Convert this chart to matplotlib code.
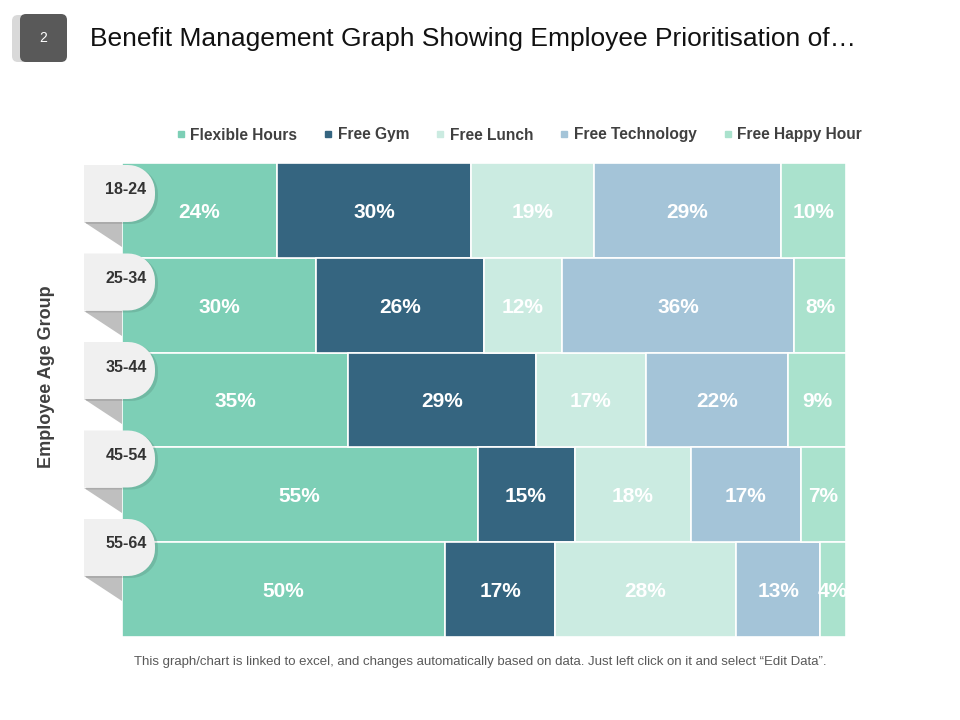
import matplotlib.pyplot as plt
import numpy as np
from matplotlib.patches import Polygon, FancyBboxPatch
from matplotlib.lines import Line2D

plt.rcParams['font.family'] = ['Liberation Sans', 'DejaVu Sans']

# data
age_groups = ["18-24", "25-34", "35-44", "45-54", "55-64"]
benefits = ["Flexible Hours", "Free Gym", "Free Lunch", "Free Technology", "Free Happy Hour"]
flexible_hours = [24, 30, 35, 55, 50]
free_gym = [30, 26, 29, 15, 17]
free_lunch = [19, 12, 17, 18, 28]
free_technology = [29, 36, 22, 17, 13]
free_happy_hour = [10, 8, 9, 7, 4]

colors = ["#7dcfb6", "#356580", "#cbebe1", "#a4c4d8", "#aae2cd"]

series = np.array([flexible_hours, free_gym, free_lunch, free_technology, free_happy_hour], dtype=float)
totals = series.sum(axis=0)

W, H = 960, 720
fig = plt.figure(figsize=(9.6, 7.2), dpi=100)


def fx(x):
    return x / W


def fy(y):
    return 1 - y / H


# main bar axes
ax = fig.add_axes([fx(122), fy(637), 724 / W, 474 / H])
y = np.arange(len(age_groups))
left = np.zeros(len(age_groups))
for i, name in enumerate(benefits):
    widths = series[i] / totals
    ax.barh(y, widths, left=left, height=1.0, color=colors[i],
            edgecolor="white", linewidth=1.2, label=name)
    for j in range(len(age_groups)):
        ax.text(left[j] + widths[j] / 2, y[j] + 0.02, f"{int(series[i][j])}%",
                ha="center", va="center", color="white", fontsize=15,
                fontweight="bold", clip_on=True)
    left += widths
ax.set_xlim(0, 1)
ax.set_ylim(len(age_groups) - 0.5, -0.5)
ax.axis("off")

# overlay in pixel coordinates for decorations
ov = fig.add_axes([0, 0, 1, 1], zorder=5)
ov.set_xlim(0, W)
ov.set_ylim(H, 0)
ov.axis("off")
ov.patch.set_alpha(0)


def tag_points(x0, x1, top, bottom, r):
    pts = [(x0, top), (x1 - r, top)]
    t = np.linspace(-np.pi / 2, 0, 12)
    pts += [(x1 - r + r * np.cos(a), top + r + r * np.sin(a)) for a in t]
    t = np.linspace(0, np.pi / 2, 12)
    pts += [(x1 - r + r * np.cos(a), bottom - r + r * np.sin(a)) for a in t]
    pts += [(x0, bottom)]
    return pts


for i, label in enumerate(age_groups):
    top = 165 + i * 88.5
    bottom = top + 57
    ov.add_patch(Polygon([(84, bottom), (122, bottom), (122, bottom + 25)],
                         closed=True, color="#bfbfbf", lw=0))
    ov.add_patch(Polygon(tag_points(86, 158, top + 2, bottom + 2, 27), closed=True,
                         color="#000000", alpha=0.10, lw=0))
    ov.add_patch(Polygon(tag_points(84, 155, top, bottom, 27), closed=True,
                         color="#f0f0f0", lw=0))
    ov.text(126, top + 25, label, ha="center", va="center", fontsize=11.5,
            fontweight="bold", color="#333333")

# badge
ov.add_patch(FancyBboxPatch((12, 15), 40, 47, boxstyle="round,pad=0,rounding_size=6",
                            color="#d9d9d9", lw=0))
ov.add_patch(FancyBboxPatch((20, 14), 47, 48, boxstyle="round,pad=0,rounding_size=6",
                            color="#595959", lw=0))
ov.text(43.5, 38, "2", ha="center", va="center", color="white", fontsize=10)

# title
ov.text(90, 39, "Benefit Management Graph Showing Employee Prioritisation of\u2026",
        ha="left", va="center", fontsize=19, color="#111111")

# y label
ov.text(47, 377, "Employee Age Group", rotation=90, ha="center", va="center",
        fontsize=13, fontweight="bold", color="#404040")

# footer
ov.text(480, 662, "This graph/chart is linked to excel, and changes automatically based on data. "
        "Just left click on it and select \u201cEdit Data\u201d.",
        ha="center", va="center", fontsize=9.5, color="#595959")

# legend
handles = [Line2D([0], [0], marker="s", linestyle="none", markersize=5,
                  markerfacecolor=c, markeredgecolor=c) for c in colors]
leg = fig.legend(handles, benefits, loc="center", bbox_to_anchor=(fx(519), fy(135)),
                 ncol=5, frameon=False, handlelength=0.6, handletextpad=0.3,
                 columnspacing=1.7, prop={"size": 11.2, "weight": "bold"})
for t in leg.get_texts():
    t.set_color("#404040")

fig.savefig("out.png", dpi=100)
